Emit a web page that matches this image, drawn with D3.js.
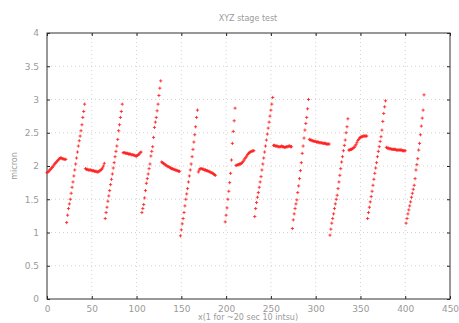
<!DOCTYPE html>
<html>
<head>
<meta charset="utf-8">
<script src="https://cdn.jsdelivr.net/npm/d3@7"></script>
<style>
  html, body { margin: 0; padding: 0; background: #fff; }
  svg { display: block; }
</style>
</head>
<body>
<svg width="459" height="323"></svg>
<script>
// sample index where each run of readings starts, and the readings (micron), one per sample
const runStart = [0, 22, 43, 65, 85, 106, 128, 149, 169, 199, 211, 232, 253, 274, 293, 316, 337, 358, 379, 401];
const runValues = [
  [1.90,1.91,1.92,1.94,1.95,1.97,1.98,2.00,2.02,2.04,2.05,2.07,2.08,2.10,2.11,2.12,2.12,2.11,2.11,2.10,2.10,2.10],
  [1.15,1.26,1.36,1.43,1.50,1.59,1.68,1.76,1.85,1.94,2.03,2.12,2.21,2.30,2.38,2.45,2.53,2.62,2.73,2.82,2.93],
  [1.96,1.95,1.95,1.94,1.94,1.94,1.94,1.93,1.93,1.93,1.92,1.92,1.92,1.91,1.91,1.92,1.93,1.94,1.95,1.97,2.00,2.04],
  [1.21,1.30,1.38,1.47,1.55,1.63,1.72,1.80,1.88,1.97,2.05,2.14,2.22,2.30,2.40,2.53,2.62,2.73,2.82,2.93],
  [2.20,2.20,2.20,2.19,2.19,2.19,2.18,2.18,2.18,2.17,2.17,2.17,2.16,2.16,2.15,2.15,2.16,2.17,2.18,2.20,2.21],
  [1.30,1.36,1.42,1.52,1.63,1.74,1.81,1.88,1.96,2.03,2.15,2.22,2.29,2.43,2.58,2.66,2.73,2.83,2.93,3.06,3.17,3.28],
  [2.06,2.05,2.04,2.03,2.02,2.01,2.00,1.99,1.99,1.98,1.97,1.96,1.96,1.95,1.95,1.94,1.94,1.93,1.93,1.92,1.92],
  [0.95,1.04,1.13,1.21,1.30,1.40,1.50,1.58,1.66,1.76,1.85,1.94,2.03,2.14,2.25,2.36,2.47,2.59,2.73,2.84],
  [1.91,1.94,1.96,1.96,1.96,1.95,1.95,1.94,1.94,1.93,1.93,1.92,1.92,1.91,1.90,1.90,1.89,1.88,1.87,1.86],
  [1.16,1.26,1.37,1.50,1.62,1.75,1.89,2.09,2.34,2.52,2.68,2.87],
  [2.01,2.01,2.02,2.02,2.03,2.03,2.04,2.05,2.07,2.09,2.11,2.13,2.15,2.17,2.19,2.20,2.21,2.22,2.22,2.23,2.23],
  [1.24,1.36,1.45,1.53,1.60,1.68,1.76,1.84,1.94,2.03,2.12,2.21,2.30,2.39,2.48,2.57,2.66,2.75,2.84,2.93,3.03],
  [2.31,2.31,2.30,2.30,2.30,2.29,2.29,2.29,2.29,2.30,2.29,2.29,2.28,2.28,2.29,2.29,2.29,2.30,2.30,2.29,2.29],
  [1.06,1.19,1.28,1.36,1.43,1.49,1.60,1.70,1.81,1.93,2.05,2.19,2.30,2.42,2.54,2.64,2.73,2.86,3.00],
  [2.40,2.39,2.39,2.38,2.38,2.37,2.37,2.37,2.36,2.36,2.36,2.35,2.35,2.35,2.35,2.34,2.34,2.34,2.34,2.33,2.33,2.33,2.33],
  [0.96,1.05,1.14,1.21,1.28,1.36,1.43,1.50,1.56,1.66,1.76,1.86,1.96,2.06,2.14,2.23,2.31,2.39,2.50,2.59,2.71],
  [2.24,2.24,2.25,2.25,2.26,2.27,2.28,2.30,2.32,2.35,2.38,2.40,2.42,2.43,2.44,2.44,2.45,2.45,2.45,2.45,2.45],
  [1.21,1.30,1.38,1.46,1.54,1.62,1.71,1.80,1.89,1.97,2.05,2.14,2.22,2.29,2.37,2.44,2.54,2.67,2.79,2.89,2.98],
  [2.28,2.27,2.27,2.26,2.26,2.26,2.25,2.25,2.25,2.25,2.25,2.24,2.24,2.24,2.24,2.24,2.24,2.24,2.23,2.23,2.23,2.23],
  [1.14,1.21,1.28,1.34,1.40,1.46,1.53,1.59,1.65,1.71,1.81,1.94,2.02,2.11,2.24,2.34,2.47,2.60,2.72,2.84,3.07]
];
const xTicks = [0, 50, 100, 150, 200, 250, 300, 350, 400, 450];
const yTicks = [0, 0.5, 1, 1.5, 2, 2.5, 3, 3.5, 4];
const title = "XYZ stage test";
const xTitle = "x(1 for ~20 sec 10 intsu)";
const yTitle = "micron";

const width = 459, height = 323;
const margin = { top: 33, right: 9, bottom: 24, left: 47 };
const font = "'DejaVu Sans', sans-serif";
const textColor = "#9a9a9a";

const points = [];
runStart.forEach((s, i) => runValues[i].forEach((v, j) => points.push({ x: s + j, y: v })));

const svg = d3.select("svg");

const x = d3.scaleLinear().domain([0, 450]).range([margin.left, width - margin.right]);
const y = d3.scaleLinear().domain([0, 4]).range([height - margin.bottom, margin.top]);

// grid
const grid = svg.append("g")
  .attr("stroke", "#c8c8c8")
  .attr("stroke-width", 0.8)
  .attr("stroke-dasharray", "1,3");
grid.selectAll(".gx")
  .data(xTicks.slice(1, -1))
  .enter().append("line")
    .attr("x1", d => x(d)).attr("x2", d => x(d))
    .attr("y1", y(0)).attr("y2", y(4));
grid.selectAll(".gy")
  .data(yTicks.slice(1, -1))
  .enter().append("line")
    .attr("x1", x(0)).attr("x2", x(450))
    .attr("y1", d => y(d)).attr("y2", d => y(d));

// axes with mirrored inward ticks
const axisStyle = g => g
  .call(g => g.select(".domain").remove())
  .call(g => g.selectAll(".tick line").attr("stroke", "#222"))
  .call(g => g.selectAll(".tick text").attr("fill", textColor).attr("font-family", font).attr("font-size", 9));

svg.append("g")
  .attr("transform", `translate(0,${y(0)})`)
  .call(d3.axisBottom(x).tickValues(xTicks).tickFormat(d3.format("d")).tickSize(-3).tickPadding(7))
  .call(axisStyle);
svg.append("g")
  .attr("transform", `translate(0,${y(4)})`)
  .call(d3.axisTop(x).tickValues(xTicks).tickFormat("").tickSize(-3))
  .call(axisStyle);
svg.append("g")
  .attr("transform", `translate(${x(0)},0)`)
  .call(d3.axisLeft(y).tickValues(yTicks).tickFormat(d3.format("")).tickSize(-3).tickPadding(8))
  .call(axisStyle);
svg.append("g")
  .attr("transform", `translate(${x(450)},0)`)
  .call(d3.axisRight(y).tickValues(yTicks).tickFormat("").tickSize(-3))
  .call(axisStyle);

svg.append("rect")
  .attr("x", x(0)).attr("y", y(4))
  .attr("width", x(450) - x(0)).attr("height", y(0) - y(4))
  .attr("fill", "none").attr("stroke", "#333").attr("stroke-width", 1);

// points as small red plus marks
const s = 1.6;
svg.append("g")
  .attr("stroke", "#ff2020")
  .attr("stroke-width", 1)
  .attr("stroke-opacity", 0.85)
  .selectAll("path")
  .data(points)
  .enter().append("path")
    .attr("d", d => `M${x(d.x) - s},${y(d.y)}h${2 * s}M${x(d.x)},${y(d.y) - s}v${2 * s}`);

// titles
svg.append("text")
  .attr("x", 248).attr("y", 21)
  .attr("text-anchor", "middle")
  .attr("font-family", font).attr("font-size", 8)
  .attr("fill", textColor)
  .text(title);
svg.append("text")
  .attr("x", 248).attr("y", 320)
  .attr("text-anchor", "middle")
  .attr("font-family", font).attr("font-size", 8)
  .attr("fill", textColor)
  .text(xTitle);
svg.append("text")
  .attr("transform", `translate(17,${(y(0) + y(4)) / 2}) rotate(-90)`)
  .attr("text-anchor", "middle")
  .attr("font-family", font).attr("font-size", 8)
  .attr("fill", textColor)
  .text(yTitle);
</script>
</body>
</html>
